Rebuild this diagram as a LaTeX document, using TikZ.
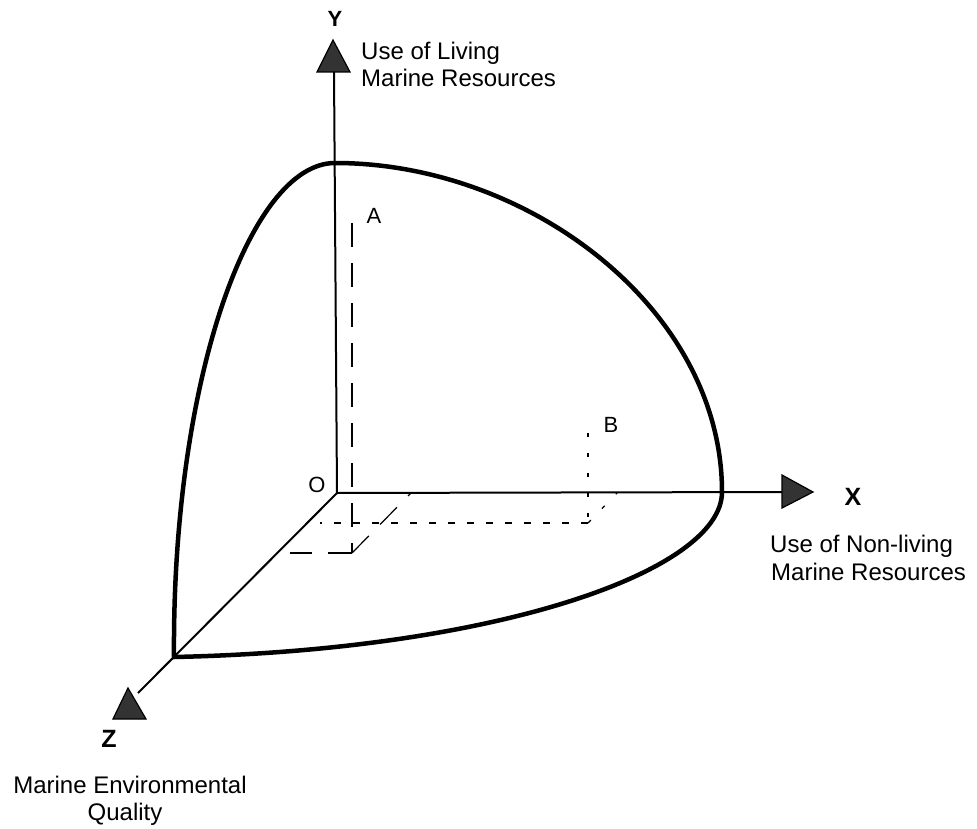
\documentclass[tikz,border=0pt]{standalone}
\usepackage{fontspec}
\setmainfont{Liberation Sans}
\begin{document}
\begin{tikzpicture}[x=1pt,y=-1pt,
  surface/.style={line width=4.5pt, line join=miter},
  axisline/.style={line width=2pt},
  arrowtri/.style={draw=black, fill=black!80, line width=1.2pt, line join=miter},
  dashA/.style={line width=1.2pt, dash pattern=on 24pt off 16pt},
  dashB/.style={line width=1.2pt, dash pattern=on 7pt off 12pt},
  dotB/.style={line width=1.3pt, dash pattern=on 4pt off 16pt},
  desc/.style={font=\fontsize{24}{28}\selectfont, inner sep=0pt},
  axlabel/.style={font=\fontsize{25}{28}\selectfont\bfseries, inner sep=0pt},
  ptlabel/.style={font=\fontsize{22}{24}\selectfont, inner sep=0pt}]
\useasboundingbox (0,0) rectangle (977,829);

% key points
\coordinate (O) at (337,493);
\coordinate (Yend) at (334,72);
\coordinate (Xend) at (782,492);
\coordinate (Zend) at (138,693);
\coordinate (C) at (174,657);
\coordinate (T) at (335,163);
\coordinate (R) at (722,492);

% projections of A and B
\coordinate (Atop) at (352,223);
\coordinate (Afoot) at (352,553);
\coordinate (AzProj) at (290,553);
\coordinate (AxProj) at (411,493);
\coordinate (Btop) at (588,433);
\coordinate (Bfoot) at (588,523);
\coordinate (BzProj) at (320,523);
\coordinate (BxProj) at (617,493);

\draw[dashA] (Atop) -- (Afoot);
\draw[dashA] (Afoot) -- (AzProj);
\draw[dashA] (Afoot) -- (AxProj);
\draw[dotB] (Btop) -- (Bfoot);
\draw[dashB] (Bfoot) -- (BzProj);
\draw[dotB] (Bfoot) -- (BxProj);

% axes
\draw[axisline] (O) -- (Yend);
\draw[axisline] (O) -- (Xend);
\draw[axisline] (O) -- (Zend);

% surface
\draw[surface] (C) .. controls (172,380) and (250,163) .. (T)
  .. controls (530,163) and (722,310) .. (R)
  .. controls (722,570) and (500,650) .. cycle;

% arrowheads
\draw[arrowtri] (317,72) -- (333,40) -- (350,72) -- cycle;
\draw[arrowtri] (782,475) -- (813,492) -- (782,508) -- cycle;
\draw[arrowtri] (113,719) -- (128,688) -- (146,719) -- cycle;

% axis labels
\node[axlabel, font=\fontsize{22}{24}\selectfont\bfseries, anchor=base] (ylab) at (335,27) {Y};
\node[axlabel, anchor=base] (xlab) at (853,505) {X};
\node[axlabel, anchor=base] (zlab) at (109,747) {Z};

% descriptions
\node[desc, anchor=base west] (ydesc1) at (361,60) {Use of Living};
\node[desc, anchor=base west] (ydesc2) at (361,87) {Marine Resources};
\node[desc, anchor=base west] (xdesc1) at (770,552) {Use of Non-living};
\node[desc, anchor=base west] (xdesc2) at (771,580) {Marine Resources};
\node[desc, anchor=base] (zdesc1) at (130,793) {Marine Environmental};
\node[desc, anchor=base] (zdesc2) at (125,820) {Quality};

% point labels
\node[ptlabel, anchor=base] (olab) at (317,492) {O};
\node[ptlabel, anchor=base] (alab) at (374,223) {A};
\node[ptlabel, anchor=base] (blab) at (611,432) {B};
\end{tikzpicture}
\end{document}
